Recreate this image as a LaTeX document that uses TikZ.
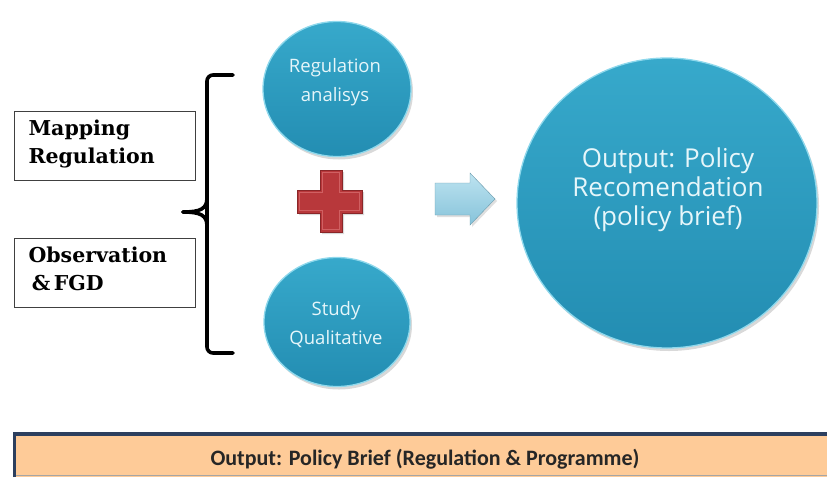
\documentclass[tikz,border=0pt]{standalone}
\usepackage{fontspec}
\setmainfont{DejaVu Serif}
\newfontfamily\circfont{Open Sans}
\newfontfamily\barfont{Carlito}
\usetikzlibrary{shapes.geometric,shadows}
\definecolor{balltop}{HTML}{37A9CB}
\definecolor{ballbot}{HTML}{238DB2}
\definecolor{ballrim}{HTML}{8ED8EC}
\definecolor{balltext}{HTML}{E6F6FA}
\definecolor{plusred}{HTML}{B8383B}
\definecolor{plusdark}{HTML}{8A2628}
\definecolor{pluslight}{HTML}{D06062}
\definecolor{arrtop}{HTML}{BDE3F0}
\definecolor{arrbot}{HTML}{86C3DA}
\definecolor{peach}{HTML}{FECB98}
\definecolor{navy}{HTML}{2C3F5E}
\tikzset{
  ball/.style={ellipse, inner sep=0pt, draw=ballrim, line width=1.3pt,
    top color=balltop, bottom color=ballbot,
    drop shadow={opacity=0.3, shadow xshift=2pt, shadow yshift=-3pt}},
  balltxt/.style={text=balltext, align=center, font=\circfont\fontsize{18.5}{29}\selectfont},
  bigtxt/.style={text=balltext, align=center, font=\circfont\fontsize{26}{29}\selectfont},
  leftbox/.style={draw=black!75, line width=0.9pt, minimum width=181pt, minimum height=69pt, inner sep=0pt},
  lefttxt/.style={align=left, font=\bfseries\fontsize{20.5}{28}\selectfont, anchor=north west},
  bracepath/.style={line width=3.6pt, black, line cap=round},
}
\begin{document}
\begin{tikzpicture}[x=1pt,y=-1pt]
\useasboundingbox (0,0) rectangle (827,477);
% left boxes
\node[leftbox] (b1) at (104.5,145.5) {};
\node[lefttxt] (t1) at (25,116) {Mapping\\Regulation};
\node[leftbox] (b2) at (104.5,272.5) {};
\node[lefttxt] (t2) at (25,243) {Observation\\\,\&\,FGD};
% brace
\draw[bracepath, rounded corners=6pt] (233,75) -- (207,75) -- (207,353) -- (233,353);
\draw[bracepath] (207,198) .. controls (207,209) and (200,212) .. (183,212);
\draw[bracepath] (207,226) .. controls (207,215) and (200,212) .. (183,212);
% circles
\node[ball, minimum width=148pt, minimum height=135pt] (c1) at (337,89) {};
\node[balltxt] (c1t) at (335,82) {Regulation\\analisys};
\node[ball, minimum width=146pt, minimum height=129pt] (c2) at (337,322) {};
\node[balltxt] (c2t) at (336,325) {Study\\Qualitative};
\node[ball, minimum width=300pt, minimum height=290pt] (c3) at (667,203) {};
\node[bigtxt] (c3t) at (668,190) {Output: Policy\\Recomendation\\(policy brief)};
% plus
\filldraw[fill=plusred, draw=plusdark, line width=0.8pt,
  drop shadow={opacity=0.3, shadow xshift=2pt, shadow yshift=-2pt}]
  (320,170) -- (342,170) -- (342,190) -- (362,190) -- (362,213) -- (342,213)
  -- (342,232) -- (320,232) -- (320,213) -- (297,213) -- (297,190) -- (320,190) -- cycle;
\draw[pluslight, line width=0.8pt]
  (322.5,172.5) -- (339.5,172.5) -- (339.5,192.5) -- (359.5,192.5) -- (359.5,210.5) -- (339.5,210.5)
  -- (339.5,229.5) -- (322.5,229.5) -- (322.5,210.5) -- (299.5,210.5) -- (299.5,192.5) -- (322.5,192.5) -- cycle;
\node[inner sep=0pt] (plus) at (330,201) {};
% arrow
\shade[top color=arrtop, bottom color=arrbot, draw=arrbot!80!black, line width=0.4pt,
  drop shadow={opacity=0.25, shadow xshift=2pt, shadow yshift=-2pt}]
  (435,183) -- (470,183) -- (470,173) -- (495,199) -- (470,225) -- (470,215) -- (435,215) -- cycle;
% bottom bar
\fill[peach] (14,433) rectangle (827,477);
\draw[black!35, line width=1pt] (16,475.5) -- (827,475.5);
\draw[navy, line width=3.5pt] (14.5,477) -- (14.5,434) -- (827,434);
\node[font=\barfont\bfseries\fontsize{22}{24}\selectfont, text=black!85] (bar) at (425,459) {Output: Policy Brief (Regulation \& Programme)};
\end{tikzpicture}
\end{document}
